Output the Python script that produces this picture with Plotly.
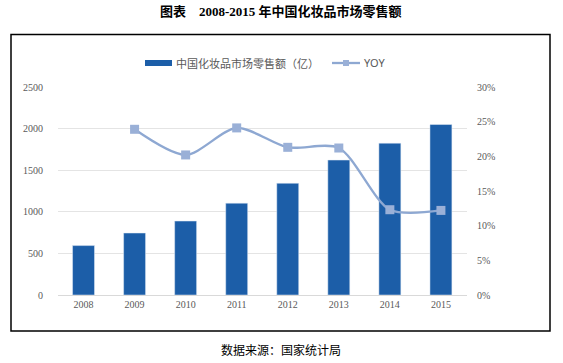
import plotly.graph_objects as go

years = ["2008", "2009", "2010", "2011", "2012", "2013", "2014", "2015"]
sales = [594, 745, 889, 1104, 1343, 1622, 1825, 2049]
yoy_years = ["2009", "2010", "2011", "2012", "2013", "2014", "2015"]
yoy = [0.239, 0.202, 0.241, 0.213, 0.212, 0.123, 0.122]

left_ticks = [0, 500, 1000, 1500, 2000, 2500]
right_ticks = [0, 0.05, 0.10, 0.15, 0.20, 0.25, 0.30]
right_labels = ["0%", "5%", "10%", "15%", "20%", "25%", "30%"]

bar_name = "中国化妆品市场零售额（亿）"
line_name = "YOY"
title_text = "图表    2008-2015 年中国化妆品市场零售额"
source_text = "数据来源：国家统计局"

BAR_C = "#1C5EA8"
LINE_C = "#8EA8D2"
MARK_C = "#9AB0D7"
TICK_C = "#595959"
GRID_C = "#E4E4E4"

W, H = 563, 363
L, R, T, B = 58, 467, 87, 295  # plot area in pixels


def px(x):
    return (x - L) / (R - L)


def py(y):
    return (B - y) / (B - T)


fig = go.Figure()
fig.add_trace(go.Bar(x=years, y=sales, name=bar_name, marker_color=BAR_C,
                     width=0.43, showlegend=False))
fig.add_trace(go.Scatter(x=yoy_years, y=yoy, name=line_name, yaxis="y2",
                         mode="lines+markers",
                         line=dict(color=LINE_C, width=2.3, shape="spline", smoothing=0.8),
                         marker=dict(symbol="square", size=9, color=MARK_C),
                         showlegend=False))

tickfont = dict(family="Liberation Serif", size=10, color=TICK_C)

fig.update_layout(
    width=W, height=H,
    margin=dict(l=L, r=W - R, t=T, b=H - B, pad=0),
    paper_bgcolor="white", plot_bgcolor="white",
    xaxis=dict(type="category", tickfont=tickfont, showgrid=False,
               showline=True, linecolor="#D9D9D9", linewidth=1, ticks=""),
    yaxis=dict(range=[0, 2500], tickvals=left_ticks, tickfont=tickfont,
               showgrid=True, gridcolor=GRID_C, gridwidth=1, zeroline=False,
               ticklabelstandoff=14),
    yaxis2=dict(range=[0, 0.30], tickvals=right_ticks, ticktext=right_labels,
                overlaying="y", side="right", tickfont=tickfont,
                showgrid=False, zeroline=False, ticklabelstandoff=9),
    bargap=0.57,
)

# outer frame
fig.add_shape(type="rect", xref="paper", yref="paper",
              x0=px(11), x1=px(550), y0=py(331), y1=py(34.5),
              line=dict(color="black", width=1.5), fillcolor="rgba(0,0,0,0)")

# custom legend
ly = py(63)
fig.add_shape(type="rect", xref="paper", yref="paper",
              x0=px(145), x1=px(172), y0=py(66), y1=py(60),
              line=dict(width=0), fillcolor=BAR_C)
fig.add_annotation(xref="paper", yref="paper", x=px(174), y=ly, text=bar_name,
                   showarrow=False, xanchor="left", yanchor="middle",
                   font=dict(family="Noto Sans CJK SC", size=11, color=TICK_C))
fig.add_shape(type="line", xref="paper", yref="paper",
              x0=px(332), x1=px(360), y0=ly, y1=ly,
              line=dict(color=LINE_C, width=2.3))
fig.add_shape(type="rect", xref="paper", yref="paper",
              x0=px(343), x1=px(349), y0=py(66), y1=py(60),
              line=dict(width=0), fillcolor=MARK_C)
fig.add_annotation(xref="paper", yref="paper", x=px(362), y=ly, text=line_name,
                   showarrow=False, xanchor="left", yanchor="middle",
                   font=dict(family="Noto Sans", size=11, color=TICK_C))

# title and source
fig.add_annotation(xref="paper", yref="paper", x=px(281), y=py(11), text="<b>" + title_text + "</b>",
                   showarrow=False, xanchor="center", yanchor="middle",
                   font=dict(family="Liberation Serif, Noto Sans CJK SC", size=13, color="black"))
fig.add_annotation(xref="paper", yref="paper", x=px(281), y=py(349), text=source_text,
                   showarrow=False, xanchor="center", yanchor="middle",
                   font=dict(family="Noto Sans CJK SC", size=12, color="black"))

fig.write_html("out.html", config={"displayModeBar": False},
               post_script="document.body.style.margin='0';document.body.style.overflow='hidden';")
